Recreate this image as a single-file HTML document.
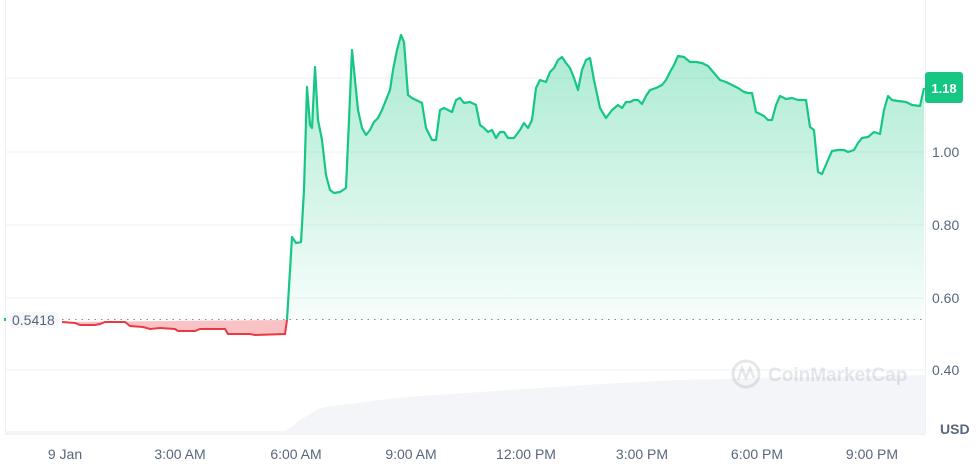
<!DOCTYPE html>
<html><head><meta charset="utf-8"><style>
body{margin:0;background:#fff;width:980px;height:465px;overflow:hidden;font-family:"Liberation Sans",sans-serif}
svg text{font-family:"Liberation Sans",sans-serif;fill:#58667e;font-size:14px}
</style></head><body>
<svg width="980" height="465" viewBox="0 0 980 465">
<defs>
<linearGradient id="g" x1="0" y1="30" x2="0" y2="320" gradientUnits="userSpaceOnUse">
<stop offset="0" stop-color="#16c784" stop-opacity="0.38"/>
<stop offset="1" stop-color="#16c784" stop-opacity="0.03"/>
</linearGradient>
</defs>
<g stroke="#eff2f5" stroke-width="1">
<line x1="5" y1="78" x2="925" y2="78"/>
<line x1="5" y1="152" x2="925" y2="152"/>
<line x1="5" y1="225" x2="925" y2="225"/>
<line x1="5" y1="298" x2="925" y2="298"/>
<line x1="5" y1="370" x2="925" y2="370"/>
<line x1="5.5" y1="0" x2="5.5" y2="434"/>
<line x1="925.5" y1="0" x2="925.5" y2="434"/>
<line x1="5" y1="434.5" x2="925" y2="434.5"/>
</g>
<path d="M5 434 L5 431 L285 431 L290 428 L300 420 L310 414 L318 409 L330 406 L350 404 L380 400 L420 396 L480 392 L540 388 L600 384 L680 380 L760 378 L925 375 L925 434 Z" fill="#eff2f5" opacity="0.75"/>
<path d="M62 322 L75 323 L80 325 L95 325 L100 324 L105 322 L125 322 L130 326 L143 327 L150 329 L160 328 L175 329 L178 331 L195 331 L200 329 L225 329 L228 334 L250 334 L255 335 L285 334 L287 320 Z" fill="#ea3943" fill-opacity="0.3"/>
<polyline points="62,322 75,323 80,325 95,325 100,324 105,322 125,322 130,326 143,327 150,329 160,328 175,329 178,331 195,331 200,329 225,329 228,334 250,334 255,335 285,334 287,320" fill="none" stroke="#ea3943" stroke-width="2"/>
<line x1="62" y1="319.5" x2="925" y2="319.5" stroke="#808a9d" stroke-width="1" stroke-dasharray="1.5,5"/>
<path id="gl" d="M287,320 L292,237 296,243 301,242 304,190 307,87 310,125 312,128 315,67 318,120 322,140 326,175 330,190 334,193 340,192 346,188 349,120 352,50 355,80 358,110 362,128 366,135 370,130 374,122 378,118 382,110 386,100 390,90 393,70 397,50 401,35 404,42 408,95 412,98 416,100 422,103 426,128 432,140 436,140 440,110 444,108 448,110 452,112 456,100 460,98 464,103 470,102 476,105 480,125 484,128 488,132 492,130 496,138 500,132 504,132 508,138 514,138 520,130 524,123 528,128 532,120 536,88 540,80 546,82 550,72 554,68 558,60 562,57 566,63 570,68 574,78 578,90 582,70 586,60 590,58 594,80 600,108 606,118 612,110 618,105 622,108 626,102 630,102 634,100 638,100 642,104 646,96 650,90 656,88 662,85 666,80 670,72 674,65 678,56 684,57 690,62 696,62 702,63 708,66 714,73 720,80 726,82 732,85 738,88 744,92 748,93 752,93 756,112 760,114 764,116 768,120 772,120 776,105 780,96 786,99 792,98 798,100 806,100 810,127 814,130 818,172 822,174 828,160 832,151 838,150 844,150 848,152 854,150 858,143 862,138 868,137 874,132 880,134 884,110 888,96 892,100 898,101 906,102 912,105 920,106 924,88" fill="none"/>
<path d="M287,320 L292,237 296,243 301,242 304,190 307,87 310,125 312,128 315,67 318,120 322,140 326,175 330,190 334,193 340,192 346,188 349,120 352,50 355,80 358,110 362,128 366,135 370,130 374,122 378,118 382,110 386,100 390,90 393,70 397,50 401,35 404,42 408,95 412,98 416,100 422,103 426,128 432,140 436,140 440,110 444,108 448,110 452,112 456,100 460,98 464,103 470,102 476,105 480,125 484,128 488,132 492,130 496,138 500,132 504,132 508,138 514,138 520,130 524,123 528,128 532,120 536,88 540,80 546,82 550,72 554,68 558,60 562,57 566,63 570,68 574,78 578,90 582,70 586,60 590,58 594,80 600,108 606,118 612,110 618,105 622,108 626,102 630,102 634,100 638,100 642,104 646,96 650,90 656,88 662,85 666,80 670,72 674,65 678,56 684,57 690,62 696,62 702,63 708,66 714,73 720,80 726,82 732,85 738,88 744,92 748,93 752,93 756,112 760,114 764,116 768,120 772,120 776,105 780,96 786,99 792,98 798,100 806,100 810,127 814,130 818,172 822,174 828,160 832,151 838,150 844,150 848,152 854,150 858,143 862,138 868,137 874,132 880,134 884,110 888,96 892,100 898,101 906,102 912,105 920,106 924,88 L924,320 Z" fill="url(#g)"/>
<use href="#gl" stroke="#16c784" stroke-width="2.2" stroke-linejoin="round"/>
<g opacity="0.2">
<circle cx="746" cy="374" r="13" fill="none" stroke="#808a9d" stroke-width="3"/>
<path d="M738 380 L742 368 L746 378 L750 368 L754 378" fill="none" stroke="#808a9d" stroke-width="2.5"/>
<text x="768" y="381" style="font-size:19px;fill:#808a9d;font-weight:bold">CoinMarketCap</text>
</g>
<rect x="4" y="318" width="2" height="3" fill="#16c784"/>
<rect x="10" y="312" width="48" height="16" rx="3" fill="#f5f7f9"/>
<text x="12" y="325">0.5418</text>
<rect x="925" y="72" width="38" height="31" rx="3" fill="#16c784"/>
<text x="944" y="93" text-anchor="middle" style="fill:#fff;font-weight:bold;font-size:13px">1.18</text>
<text x="932" y="157">1.00</text>
<text x="932" y="230">0.80</text>
<text x="932" y="303">0.60</text>
<text x="932" y="375">0.40</text>
<text x="940" y="434" style="font-weight:bold">USD</text>
<g text-anchor="middle">
<text x="65" y="459">9 Jan</text>
<text x="180" y="459">3:00 AM</text>
<text x="296" y="459">6:00 AM</text>
<text x="411" y="459">9:00 AM</text>
<text x="526" y="459">12:00 PM</text>
<text x="642" y="459">3:00 PM</text>
<text x="757" y="459">6:00 PM</text>
<text x="872" y="459">9:00 PM</text>
</g>
</svg>
</body></html>
